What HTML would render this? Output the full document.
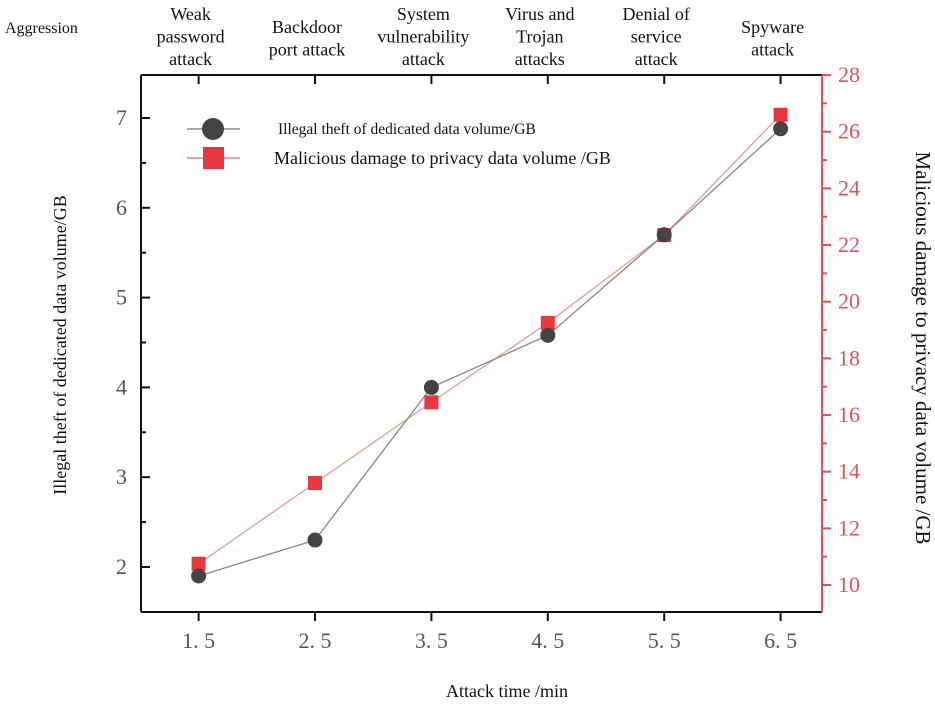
<!DOCTYPE html>
<html><head><meta charset="utf-8"><style>
body{margin:0;background:#fff;}
svg text{font-family:"Liberation Serif",serif;}
</style></head><body>
<svg width="935" height="707" xmlns="http://www.w3.org/2000/svg">
<g id="axes"></g>
<g id="marks"></g>
</svg>
<script>
const xValues=[1.5,2.5,3.5,4.5,5.5,6.5];
const categories=[["Weak","password","attack"],["Backdoor","port attack"],["System","vulnerability","attack"],["Virus and","Trojan","attacks"],["Denial of","service","attack"],["Spyware","attack"]];
const theftValues=[1.9,2.3,4.0,4.58,5.7,6.88];
const damageValues=[10.75,13.6,16.45,19.25,22.35,26.6];
const leftTicks=[2,3,4,5,6,7];
const rightTicks=[10,12,14,16,18,20,22,24,26,28];

const NS="http://www.w3.org/2000/svg";
const L=141,R=822,T=75,B=612;
const xs=v=>198.6+(v-1.5)*116.4;
const yl=v=>567-(v-2)*89.8;
const yr=v=>585-(v-10)*28.33;
const ax=document.getElementById('axes'),mk=document.getElementById('marks');
function el(tag,attrs,parent,txt){const e=document.createElementNS(NS,tag);for(const k in attrs)e.setAttribute(k,attrs[k]);if(txt!==undefined)e.textContent=txt;parent.appendChild(e);return e;}

let e;
e=el('line',{x1:L,y1:T,x2:R,y2:T,stroke:'#111','stroke-width':2},ax);

e=el('line',{x1:L,y1:T,x2:L,y2:B,stroke:'#111','stroke-width':2},ax);

e=el('line',{x1:L,y1:B,x2:R,y2:B,stroke:'#111','stroke-width':2},ax);

e=el('line',{x1:R,y1:T,x2:R,y2:B,stroke:'#e0505a','stroke-width':2},ax);


xValues.forEach((v,i)=>{
  const x=xs(v);
  el('line',{x1:x,y1:B,x2:x,y2:B+9,stroke:'#111','stroke-width':2},ax);
  el('line',{x1:x,y1:T,x2:x,y2:T+9,stroke:'#111','stroke-width':2},ax);
  e=el('text',{x:x,y:B+36,'text-anchor':'middle','font-size':22,fill:'#555'},ax,v.toFixed(1).replace('.','. '));
  
  const lines=categories[i];
  const startY=lines.length===3?20:33;
  lines.forEach((s,j)=>{
    e=el('text',{x:x-8,y:startY+j*22.5,'text-anchor':'middle','font-size':18,fill:'#111'},ax,s);
    
  });
});
leftTicks.forEach(v=>{
  const y=yl(v);
  el('line',{x1:L,y1:y,x2:L+9,y2:y,stroke:'#111','stroke-width':2},ax);
  if(v<7)el('line',{x1:L,y1:yl(v+0.5),x2:L+5,y2:yl(v+0.5),stroke:'#111','stroke-width':2},ax);
  e=el('text',{x:L-14,y:y+7,'text-anchor':'end','font-size':22,fill:'#555'},ax,String(v));
  
});
rightTicks.forEach(v=>{
  const y=yr(v);
  el('line',{x1:R,y1:y,x2:R+9,y2:y,stroke:'#e0505a','stroke-width':2},ax);
  if(v<28)el('line',{x1:R,y1:yr(v+1),x2:R+5,y2:yr(v+1),stroke:'#e0505a','stroke-width':2},ax);
  e=el('text',{x:R+16,y:y+7,'font-size':22,fill:'#d9555d'},ax,String(v));
  
});
e=el('text',{x:5,y:33,'font-size':16,fill:'#111'},ax,'Aggression');

e=el('text',{x:507,y:697,'text-anchor':'middle','font-size':18,fill:'#111'},ax,'Attack time /min');

e=el('text',{x:0,y:0,'text-anchor':'middle','font-size':18,fill:'#111',transform:'translate(66,345) rotate(-90)'},ax,'Illegal theft of dedicated data volume/GB');

e=el('text',{x:0,y:0,'text-anchor':'middle','font-size':21,fill:'#111',transform:'translate(916,348) rotate(90)'},ax,'Malicious damage to privacy data volume /GB');


e=el('polyline',{points:xValues.map((v,i)=>xs(v)+','+yr(damageValues[i])).join(' '),fill:'none',stroke:'#e89a9a','stroke-width':1.3},mk);

e=el('polyline',{points:xValues.map((v,i)=>xs(v)+','+yl(theftValues[i])).join(' '),fill:'none',stroke:'#888','stroke-width':1.3},mk);

xValues.forEach((v,i)=>{
  e=el('rect',{x:xs(v)-7,y:yr(damageValues[i])-7,width:14,height:14,fill:'#e8373d'},mk);
  
  e=el('circle',{cx:xs(v),cy:yl(theftValues[i]),r:7.5,fill:'#444'},mk);
  
});

const lg=el('g',{},mk);

el('line',{x1:187,y1:129,x2:240,y2:129,stroke:'#aaa','stroke-width':2},lg);
el('circle',{cx:213,cy:129,r:11,fill:'#444'},lg);
e=el('text',{x:278,y:134,'font-size':15.5,fill:'#111'},lg,'Illegal theft of dedicated data volume/GB');

el('line',{x1:187,y1:158,x2:240,y2:158,stroke:'#f2a0a0','stroke-width':2},lg);
el('rect',{x:203,y:147,width:21,height:22,fill:'#e8373d'},lg);
e=el('text',{x:274,y:164,'font-size':18,fill:'#111'},lg,'Malicious damage to privacy data volume /GB');

</script>
</body></html>
